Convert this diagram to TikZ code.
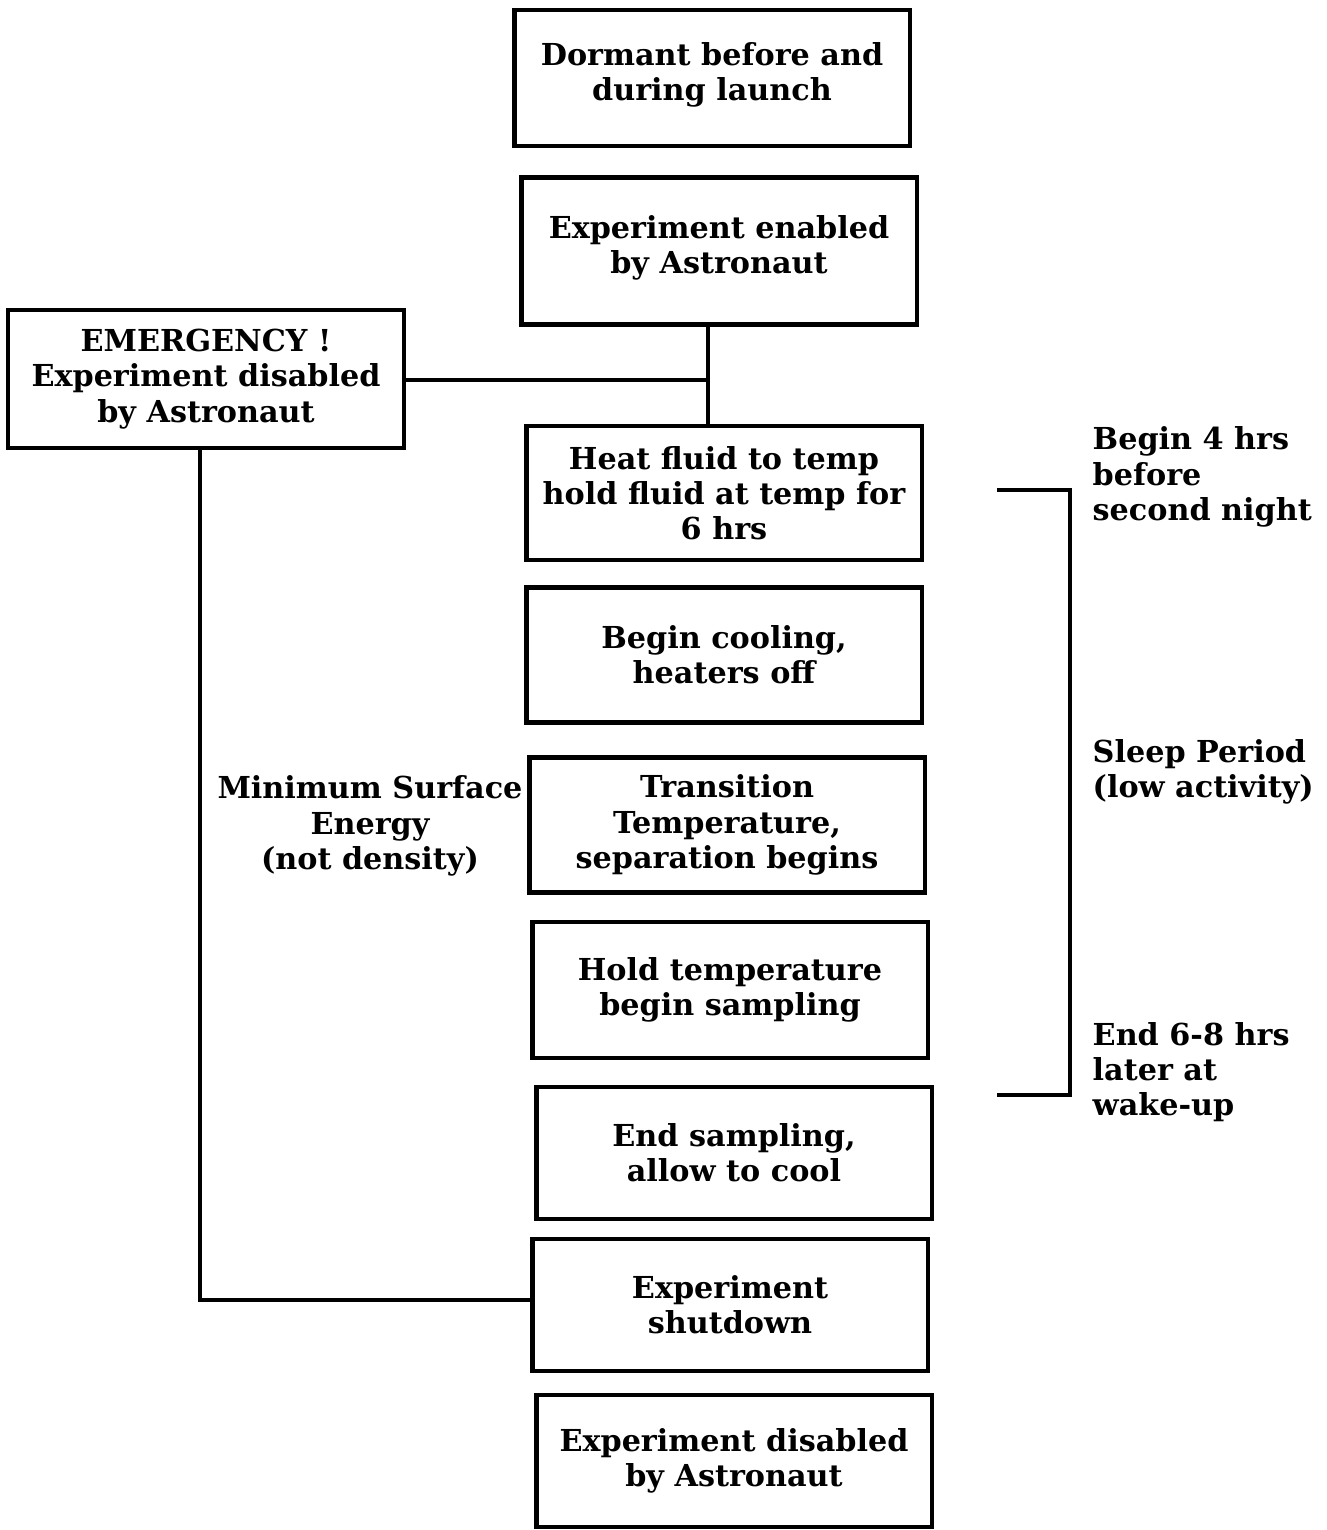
\documentclass[tikz,border=0pt]{standalone}
\usepackage{fontspec}
\setmainfont{DejaVu Serif}
\usepackage{tikz}
\usetikzlibrary{positioning, calc}
\tikzset{stage/.style={draw, line width=1.2pt, minimum width=3.95cm, minimum height=1.34cm, align=center, inner sep=0pt}}
\tikzset{note/.style={align=left, inner sep=0pt}}
\tikzset{wire/.style={line width=1.2pt}}

\begin{document}
\begin{tikzpicture}[x=0.01cm, y=-0.01cm, font=\fontsize{8.6}{10}\selectfont\bfseries]
      \useasboundingbox (0,0) rectangle (1326,1530);

      % BOXES

      \node[stage, minimum height=1.36cm] (dormant) at (712,78) {Dormant before and\\during launch\\[-6.3pt]};
      \node[stage, minimum height=1.47cm] (enabled) at (719,251) {Experiment enabled\\by Astronaut\\[-6.3pt]};
      \node[stage, minimum height=1.38cm] (emerg) at (206,379) {EMERGENCY !\\Experiment disabled\\by Astronaut};
      \node[stage] (heat) at (724,493) {Heat fluid to temp\\hold fluid at temp for\\6 hrs};
      \node[stage, minimum height=1.35cm] (cool) at (724,655) {Begin cooling,\\heaters off};
      \node[stage, minimum height=1.35cm] (trans) at (727,825) {Transition\\Temperature,\\separation begins};
      \node[stage, minimum height=1.36cm] (hold) at (730,990) {Hold temperature\\begin sampling};
      \node[stage, minimum height=1.32cm] (endsamp) at (734,1153) {End sampling,\\allow to cool};
      \node[stage, minimum height=1.32cm] (shutdown) at (730,1305) {Experiment\\shutdown};
      \node[stage, minimum height=1.32cm] (disabled) at (734,1461) {Experiment disabled\\by Astronaut};

      % LABELS

      \node[align=center, inner sep=0pt] (surface) at (370,826) {Minimum Surface\\Energy\\(not density)};
      \node[note, anchor=west] (beginLabel) at (1092,477) {Begin 4 hrs\\before\\second night};
      \node[note, anchor=west] (sleepLabel) at (1092,772) {Sleep Period\\(low activity)};
      \node[note, anchor=west] (endLabel) at (1092,1072) {End 6-8 hrs\\later at\\wake-up};

      % LINES

      \coordinate (jn) at (708,380);
      \draw[wire] (jn |- enabled.south) -- (jn |- heat.north);
      \draw[wire] (emerg.east |- jn) -- (jn);
      \draw[wire] (emerg.south -| 200,0) -- (200,1300) -- (shutdown.west |- 0,1300);

      % BRACKET

      \coordinate (btop) at (1070,490);
      \coordinate (bbot) at (1070,1095);
      \draw[wire] ($(btop)-(73,0)$) -- (btop) -- (bbot) -- ($(bbot)-(73,0)$);
\end{tikzpicture}
\end{document}
